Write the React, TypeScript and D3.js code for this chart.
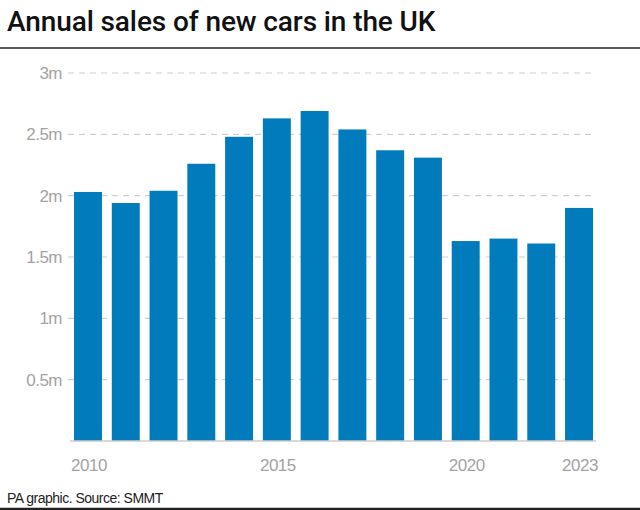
import React from "react";
import * as d3 from "d3";

const years = ["2010","2011","2012","2013","2014","2015","2016","2017","2018","2019","2020","2021","2022","2023"];
const sales = [2.03, 1.94, 2.04, 2.26, 2.48, 2.63, 2.69, 2.54, 2.37, 2.31, 1.63, 1.65, 1.61, 1.90];
const yTicks = [0.5, 1, 1.5, 2, 2.5, 3];
const yTickLabels = ["0.5m", "1m", "1.5m", "2m", "2.5m", "3m"];
const xLabelYears = ["2010", "2015", "2020", "2023"];

const W = 640, H = 510;
const FONT = "'Liberation Sans', Arial, sans-serif";

export default function App() {
  const x = d3.scaleBand<string>().domain(years).range([69.1, 597.9]).paddingInner(0.26).paddingOuter(0.13);
  const y = d3.scaleLinear().domain([0, 3]).range([441, 73]);
  const bw = x.bandwidth();
  return (
    <svg width={W} height={H} style={{ position: "absolute", left: 0, top: 0, background: "#fff" }} fontFamily={FONT}>
      <text x={7} y={31} fontSize={28} fontWeight={500} fill="#111" letterSpacing={-0.1} fontFamily="Roboto, sans-serif">Annual sales of new cars in the UK</text>
      <line x1={0} x2={W} y1={48} y2={48} stroke="#222" strokeWidth={1.5} />
      {yTicks.map((t, i) => (
        <g key={t}>
          <line x1={68} x2={594} y1={y(t)} y2={y(t)} stroke="#cfcfcf" strokeWidth={1.2} strokeDasharray="6,5" />
          <text x={62} y={y(t)} dy="0.35em" textAnchor="end" fontSize={17} fill="#a3a3a3" letterSpacing={-0.5}>{yTickLabels[i]}</text>
        </g>
      ))}
      {years.map((yr, i) => (
        <rect key={yr} x={x(yr)} y={y(sales[i])} width={bw} height={y(0) - y(sales[i])} fill="#007bbb" />
      ))}
      <line x1={70} x2={596} y1={y(0)} y2={y(0)} stroke="#cccccc" strokeWidth={1.5} />
      {xLabelYears.map((yr) => (
        <text key={yr} x={(x(yr) as number) + bw / 2 + 1} y={471} textAnchor="middle" fontSize={17} fill="#a3a3a3" letterSpacing={-0.5}>{yr}</text>
      ))}
      <text x={7} y={503} fontSize={14} fill="#222" letterSpacing={-0.5}>PA graphic. Source: SMMT</text>
      <line x1={0} x2={W} y1={509} y2={509} stroke="#222" strokeWidth={2.5} />
    </svg>
  );
}
